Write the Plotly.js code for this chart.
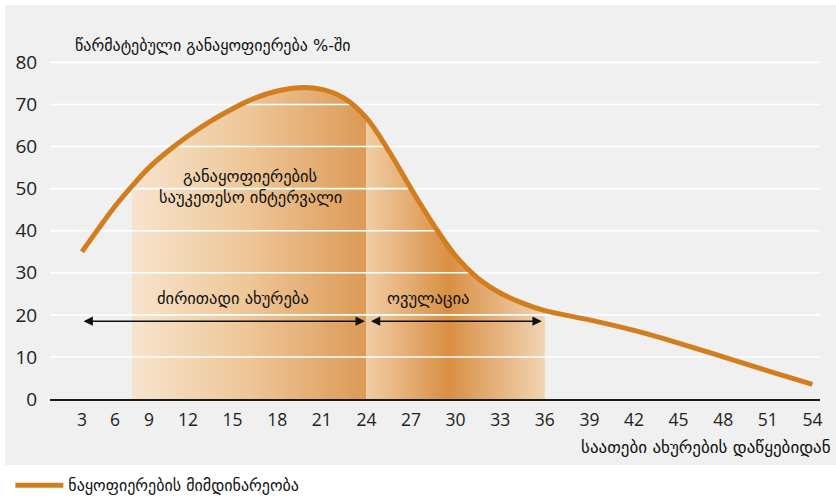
<!DOCTYPE html>
<html><head><meta charset="utf-8">
<script src="https://cdn.plot.ly/plotly-3.0.1.min.js"></script>
<style>html,body{margin:0;padding:0;background:#fff}#chart{width:836px;height:498px}</style>
</head><body><div id="chart"></div>
<script>
// ---- data ----
const hours   = [3, 4.5, 6, 7.5, 9, 10.5, 12, 13.5, 15, 16.5, 18, 19.5, 21, 22.5, 24, 25.5, 27, 28.5, 30, 31.5, 33, 34.5, 36, 39, 42, 45, 48, 51, 54];
const success = [35, 40.5, 45.8, 50.6, 55, 59, 62.5, 66, 69, 71.5, 73.2, 74, 73.6, 71.5, 66.8, 59, 50, 41.5, 34, 28.7, 25.2, 22.8, 21, 18.8, 16.3, 13.3, 10, 6.7, 3.5];
const tickHours = [3, 6, 9, 12, 15, 18, 21, 24, 27, 30, 33, 36, 39, 42, 45, 48, 51, 54];
const yTicks = [0, 10, 20, 30, 40, 50, 60, 70, 80];
const fertileWindow = [7.5, 24];
const ovulationWindow = [24, 36];
const mainHeatWindow = [3, 24];
const ovulationArrow = [24.2, 35.8];
const arrowLevel = 18.5;
const seriesName = 'ნაყოფიერების მიმდინარეობა';
const yTitle = 'წარმატებული განაყოფიერება %-ში';
const xTitle = 'საათები ახურების დაწყებიდან';
const labelBest1 = 'განაყოფიერების';
const labelBest2 = 'საუკეთესო ინტერვალი';
const labelHeat = 'ძირითადი ახურება';
const labelOvul = 'ოვულაცია';

// ---- layout helpers (axis is laid out with compressed first ticks) ----
const firstPos = [32, 65, 99, 138];
const step = 14.867;
const tickPos = tickHours.map((h, i) => i < 4 ? firstPos[i] : 138 + (h - 12) * step);
function warp(h) {
  for (let i = 0; i < tickHours.length - 1; i++) {
    if (h <= tickHours[i + 1] || i === tickHours.length - 2) {
      const t = (h - tickHours[i]) / (tickHours[i + 1] - tickHours[i]);
      return tickPos[i] + t * (tickPos[i + 1] - tickPos[i]);
    }
  }
}
function sub(a, b) {
  const xs = [], ys = [];
  hours.forEach((h, i) => { if (h >= a && h <= b) { xs.push(warp(h)); ys.push(success[i]); } });
  return {xs, ys};
}
const XR = [0, 770];
const orange = '#d27e1e';
const gfont = 'DejaVu Sans, sans-serif';

const w1 = sub(fertileWindow[0], fertileWindow[1]);
const w2 = sub(ovulationWindow[0], ovulationWindow[1]);

const traces = [];
traces.push({
  x: w1.xs, y: w1.ys, type: 'scatter', mode: 'lines', line: {width: 0, shape: 'spline'},
  fill: 'tozeroy', fillgradient: {type: 'horizontal', colorscale: [[0, '#f7e4cd'], [0.5, '#eec697'], [1, '#dc9a56']]},
  hoverinfo: 'skip', showlegend: false
});
traces.push({
  x: w2.xs, y: w2.ys, type: 'scatter', mode: 'lines', line: {width: 0, shape: 'spline'},
  fill: 'tozeroy', fillgradient: {type: 'horizontal', colorscale: [[0, '#f0cda4'], [0.46, '#d98f44'], [1, '#f1d4b2']]},
  hoverinfo: 'skip', showlegend: false
});
yTicks.filter(t => t > 0).forEach(t => traces.push({
  x: XR, y: [t, t], type: 'scatter', mode: 'lines', line: {color: '#ffffff', width: 1.6},
  hoverinfo: 'skip', showlegend: false
}));
traces.push({
  x: hours.map(warp), y: success, type: 'scatter', mode: 'lines', name: seriesName,
  line: {color: orange, width: 5, shape: 'spline', smoothing: 1}
});

const arrowBase = {xref: 'x', yref: 'y', axref: 'x', ayref: 'y', text: '', showarrow: true,
  arrowhead: 2, arrowside: 'end+start', arrowsize: 1.25, arrowwidth: 1.5, arrowcolor: '#111', standoff: 0, startstandoff: 0};

const lblFont = {family: gfont, size: 16.5, color: '#111'};
const layout = {
  width: 836, height: 498,
  margin: {l: 50, r: 16, t: 54, b: 99, autoexpand: false},
  paper_bgcolor: '#ffffff', plot_bgcolor: 'rgba(0,0,0,0)',
  font: {family: 'Open Sans, sans-serif', color: '#222'},
  showlegend: true,
  legend: {orientation: 'h', x: -0.0515, xanchor: 'left', y: -0.25, yanchor: 'middle',
    bgcolor: 'rgba(0,0,0,0)', font: {family: gfont, size: 16, color: '#111'}, itemwidth: 48},
  xaxis: {range: XR, tickvals: tickPos, ticktext: tickHours.map(String), showgrid: false, zeroline: false,
    showline: true, linecolor: '#1a1a1a', linewidth: 1.5, ticks: 'outside', ticklen: 4, tickcolor: 'rgba(0,0,0,0)',
    tickfont: {size: 17.5, color: '#222'}, fixedrange: true, automargin: false},
  yaxis: {range: [0, 82], tickvals: yTicks, showgrid: false, zeroline: false, showline: false,
    ticks: 'outside', ticklen: 8, tickcolor: 'rgba(0,0,0,0)', tickfont: {size: 19, color: '#222'}, fixedrange: true, automargin: false},
  shapes: [{type: 'rect', xref: 'paper', yref: 'paper', x0: -0.0584, x1: 1.0208, y0: -0.191, y1: 1.142,
    fillcolor: '#eff0ef', line: {width: 0}, layer: 'below'}],
  annotations: [
    Object.assign({}, arrowBase, {x: warp(mainHeatWindow[1]) - 1.5, y: arrowLevel, ax: warp(mainHeatWindow[0]), ay: arrowLevel}),
    Object.assign({}, arrowBase, {x: warp(ovulationArrow[1]), y: arrowLevel, ax: warp(ovulationArrow[0]), ay: arrowLevel}),
    {xref: 'x', yref: 'y', x: 200, y: 53.0, text: labelBest1, showarrow: false, font: lblFont},
    {xref: 'x', yref: 'y', x: 200, y: 48.0, text: labelBest2, showarrow: false, font: lblFont},
    {xref: 'x', yref: 'y', x: 183, y: 24, text: labelHeat, showarrow: false, font: lblFont},
    {xref: 'x', yref: 'y', x: 378, y: 24, text: labelOvul, showarrow: false, font: lblFont},
    {xref: 'paper', yref: 'paper', x: 0.0299, y: 1.026, xanchor: 'left', yanchor: 'middle', text: yTitle, showarrow: false, font: {family: gfont, size: 16, color: '#111'}},
    {xref: 'paper', yref: 'paper', x: 1.0169, y: -0.139, xanchor: 'right', yanchor: 'middle', text: xTitle, showarrow: false, font: {family: gfont, size: 17, color: '#111'}}
  ]
};
Plotly.newPlot('chart', traces, layout, {displayModeBar: false, staticPlot: true});
</script></body></html>
